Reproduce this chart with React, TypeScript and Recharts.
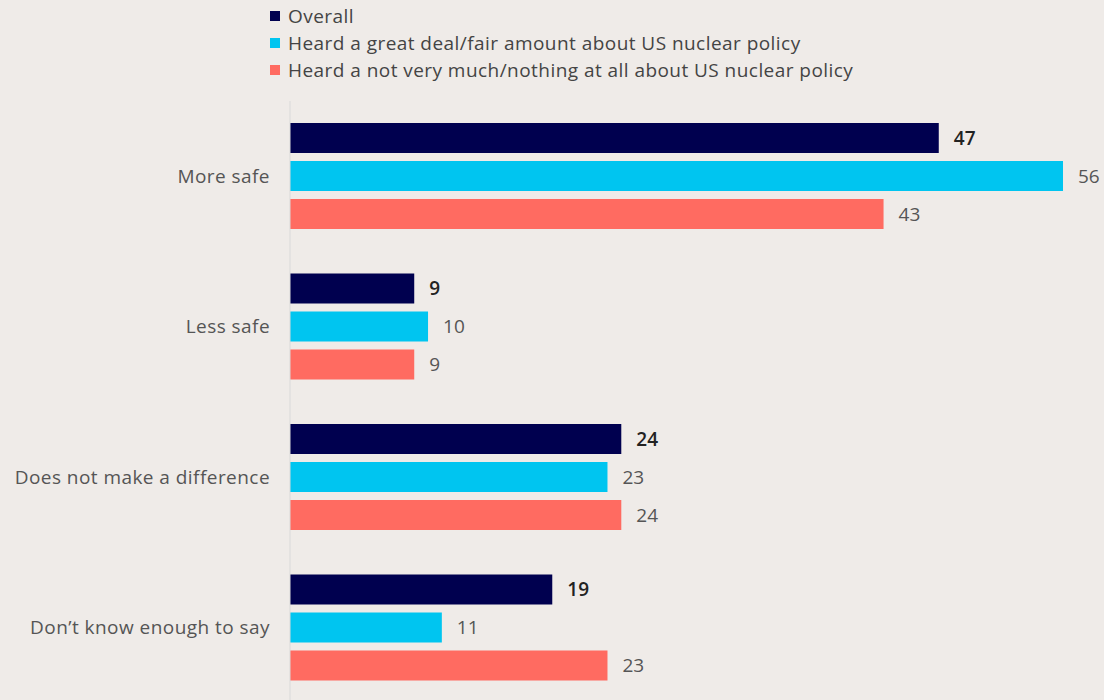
import { BarChart, Bar, XAxis, YAxis, LabelList } from 'recharts';

const categories = ['More safe', 'Less safe', 'Does not make a difference', 'Don\u2019t know enough to say'];
const overall = [47, 9, 24, 19];
const heardMuch = [56, 10, 23, 11];
const heardLittle = [43, 9, 24, 23];

const seriesNames = [
	'Overall',
	'Heard a great deal/fair amount about US nuclear policy',
	'Heard a not very much/nothing at all about US nuclear policy',
];
const colors = ['#00004f', '#00c5f0', '#ff6b61'];

const data = categories.map((name, i) => ({
	name,
	overall: overall[i],
	heardMuch: heardMuch[i],
	heardLittle: heardLittle[i],
}));

const font = "'Open Sans', sans-serif";

function LegendBox() {
	return (
		<div style={{ position: 'absolute', left: 270, top: 2, fontFamily: font, fontSize: 19, letterSpacing: 0.45, color: '#444' }}>
			{seriesNames.map((s, i) => (
				<div key={s} style={{ display: 'flex', alignItems: 'center', height: 27 }}>
					<span style={{ width: 10, height: 10, background: colors[i], marginRight: 8, display: 'inline-block' }} />
					<span>{s}</span>
				</div>
			))}
		</div>
	);
}

export default function App() {
	return (
		<div style={{ position: 'fixed', left: 0, top: 0, width: 1104, height: 700, overflow: 'hidden', background: '#efebe8' }}>
			<LegendBox />
			<BarChart
				width={1104}
				height={703}
				data={data}
				layout="vertical"
				margin={{ top: 101, right: 41, bottom: 0, left: 0 }}
				barSize={30}
				barGap={8}
			>
				<XAxis type="number" domain={[0, 56]} hide />
				<YAxis
					type="category"
					dataKey="name"
					width={290}
					axisLine={{ stroke: '#d9d9d9' }}
					tickLine={false}
					tickMargin={14}
					tick={{ fill: '#555', fontSize: 19, fontFamily: font, letterSpacing: 0.45 }}
				/>
				<Bar dataKey="overall" fill={colors[0]} isAnimationActive={false}>
					<LabelList dataKey="overall" position="right" offset={15} fill="#222" fontSize={19} fontFamily={font} fontWeight={600} />
				</Bar>
				<Bar dataKey="heardMuch" fill={colors[1]} isAnimationActive={false}>
					<LabelList dataKey="heardMuch" position="right" offset={15} fill="#555" fontSize={19} fontFamily={font} />
				</Bar>
				<Bar dataKey="heardLittle" fill={colors[2]} isAnimationActive={false}>
					<LabelList dataKey="heardLittle" position="right" offset={15} fill="#555" fontSize={19} fontFamily={font} />
				</Bar>
			</BarChart>
		</div>
	);
}
